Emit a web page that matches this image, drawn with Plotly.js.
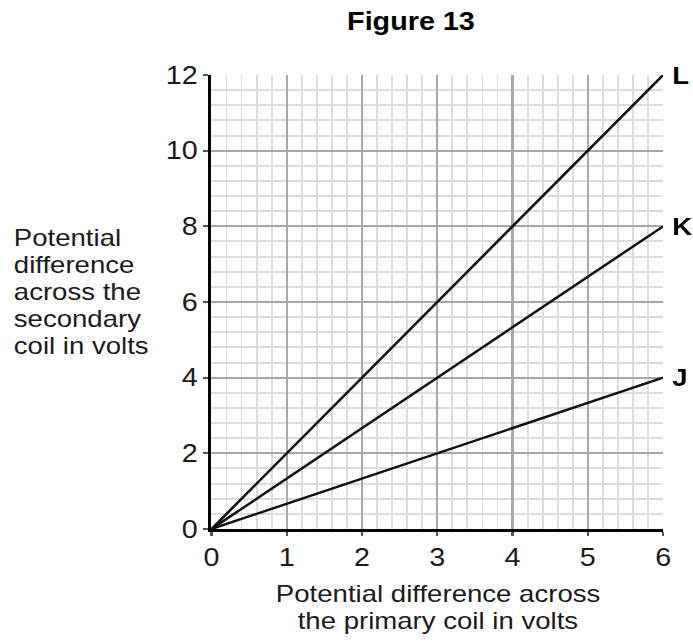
<!DOCTYPE html>
<html>
<head>
<meta charset="utf-8">
<script src="https://cdn.plot.ly/plotly-3.0.1.min.js"></script>
<style>
  html, body { margin: 0; padding: 0; background: #ffffff; overflow: hidden; }
  #chart { width: 603px; height: 643px; transform-origin: 0 0; }
  #chart .main-svg { overflow: visible; }
</style>
</head>
<body>
<div id="chart"></div>
<script>
// ---- data ----
const primaryVolts = [0, 6];
const seriesNames = ['L', 'K', 'J'];
const secondaryL = [0, 12];
const secondaryK = [0, 8];
const secondaryJ = [0, 4];
const xTickVals = [0, 1, 2, 3, 4, 5, 6];
const yTickVals = [0, 2, 4, 6, 8, 10, 12];
const yTitleLines = ['Potential', 'difference', 'across the', 'secondary', 'coil in volts'];
const xTitleLines = ['Potential difference across', 'the primary coil in volts'];
const chartTitle = 'Figure 13';

// ---- layout (the reference figure is stretched horizontally) ----
const FINAL_W = 693, H = 643;
const W = 603;
const S = FINAL_W / W;            // horizontal stretch factor
document.getElementById('chart').style.transform = 'scaleX(' + S + ')';
const M = { l: 184, r: 26, t: 75, b: 114 };
const PW = W - M.l - M.r, PH = H - M.t - M.b;
const px = x => (x / S - M.l) / PW;      // final pixel x -> paper
const py = y => (H - M.b - y) / PH;      // pixel y -> paper

const FONT = '"Liberation Sans", Arial, Helvetica, sans-serif';
const TXT = '#1a1a1a';
const seriesY = [secondaryL, secondaryK, secondaryJ];

const traces = seriesY.map((ys, i) => ({
  type: 'scatter',
  mode: 'lines',
  x: primaryVolts,
  y: ys,
  name: seriesNames[i],
  line: { color: '#111111', width: 2.4 },
  cliponaxis: false,
  hoverinfo: 'skip'
}));

const annotations = [];
// series end labels
seriesY.forEach((ys, i) => {
  annotations.push({
    x: primaryVolts[primaryVolts.length - 1], y: ys[ys.length - 1],
    xref: 'x', yref: 'y', text: '<b>' + seriesNames[i] + '</b>', showarrow: false,
    xanchor: 'left', yanchor: 'middle', xshift: 6,
    font: { family: FONT, size: 24, color: '#000000' }
  });
});
// title
annotations.push({
  x: px(411), y: py(21), xref: 'paper', yref: 'paper', text: '<b>' + chartTitle + '</b>',
  showarrow: false, xanchor: 'center', yanchor: 'middle',
  font: { family: FONT, size: 25, color: '#000000' }
});
// y title lines
const yTitleCenters = [237, 264, 291, 318, 345];
yTitleLines.forEach((t, i) => {
  annotations.push({
    x: px(12), y: py(yTitleCenters[i]), xref: 'paper', yref: 'paper', text: t,
    showarrow: false, xanchor: 'left', yanchor: 'middle',
    font: { family: FONT, size: 24, color: TXT }
  });
});
// x title lines
const xTitleCenters = [593, 620];
xTitleLines.forEach((t, i) => {
  annotations.push({
    x: px(438), y: py(xTitleCenters[i]), xref: 'paper', yref: 'paper', text: t,
    showarrow: false, xanchor: 'center', yanchor: 'middle',
    font: { family: FONT, size: 24, color: TXT }
  });
});

const layout = {
  width: W, height: H,
  margin: M,
  paper_bgcolor: '#ffffff', plot_bgcolor: '#ffffff',
  showlegend: false,
  font: { family: FONT, size: 25, color: TXT },
  xaxis: {
    range: [0, 6], tickmode: 'array', tickvals: xTickVals,
    showline: true, linecolor: '#000000', linewidth: 3,
    ticks: 'outside', ticklen: 4, tickcolor: '#555555', tickwidth: 2,
    showgrid: true, gridcolor: '#a8a8a8', gridwidth: 2,
    zeroline: false, fixedrange: true,
    tickfont: { family: FONT, size: 25, color: TXT },
    minor: { dtick: 0.2, showgrid: true, gridcolor: '#dcdcdc', gridwidth: 1.6, ticks: '' }
  },
  yaxis: {
    range: [0, 12], tickmode: 'array', tickvals: yTickVals,
    showline: true, linecolor: '#000000', linewidth: 3,
    ticks: 'outside', ticklen: 4, tickcolor: '#555555', tickwidth: 2,
    showgrid: true, gridcolor: '#a8a8a8', gridwidth: 2,
    zeroline: false, fixedrange: true,
    tickfont: { family: FONT, size: 25, color: TXT },
    minor: { dtick: 0.4, showgrid: true, gridcolor: '#dcdcdc', gridwidth: 2, ticks: '' }
  },
  annotations: annotations
};

Plotly.newPlot('chart', traces, layout, { staticPlot: true, displayModeBar: false });
</script>
</body>
</html>
